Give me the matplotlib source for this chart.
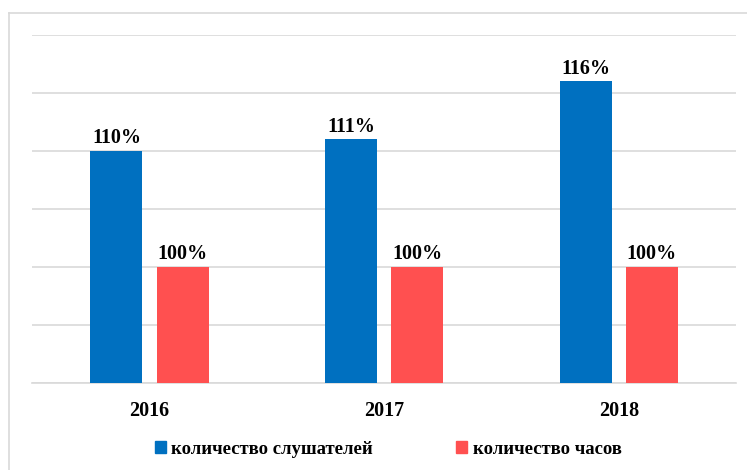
import matplotlib
matplotlib.use("Agg")
import matplotlib.pyplot as plt
from matplotlib.lines import Line2D
import numpy as np

years = ["2016", "2017", "2018"]
listeners = [110, 111, 116]
hours = [100, 100, 100]
series_names = ["количество слушателей", "количество часов"]
colors = ["#0070C0", "#FF5050"]

plt.rcParams['font.family'] = ['Liberation Serif', 'DejaVu Serif']

fig = plt.figure(figsize=(7.47, 4.70), dpi=100)
W, H = 747, 470

# outer chart frame (light gray), extends beyond right/bottom edges
frame_col = "#D9D9D9"
fig.add_artist(Line2D([9/W, 1.0], [1 - 12.5/H, 1 - 12.5/H], transform=fig.transFigure,
                      color=frame_col, lw=1.2))
fig.add_artist(Line2D([9/W, 9/W], [0.0, 1 - 12.5/H], transform=fig.transFigure,
                      color=frame_col, lw=1.2))

ax = fig.add_axes([32.2/W, 1 - 382.7/H, (736.1 - 32.2)/W, (382.7 - 35)/H])
x = np.arange(len(years))
width = 0.222
off = 0.141

b1 = ax.bar(x - off, listeners, width, color=colors[0], zorder=3, bottom=0)
b2 = ax.bar(x + off, hours, width, color=colors[1], zorder=3, bottom=0)

ax.set_ylim(90, 120)
ax.set_xlim(-0.5, 2.5)
ax.set_yticks(np.arange(90, 121, 5))
ax.yaxis.grid(True, color="#D9D9D9", lw=1.2, zorder=0)
ax.tick_params(axis='y', left=False, labelleft=False)
ax.tick_params(axis='x', bottom=False, pad=10)
ax.set_xticks(x)
ax.set_xticklabels(years, fontsize=14.5, fontweight='bold')
for s in ["top", "right", "left"]:
    ax.spines[s].set_visible(False)
ax.spines["bottom"].set_color("#D9D9D9")
ax.spines["bottom"].set_linewidth(1.2)

for bars, vals in ((b1, listeners), (b2, hours)):
    for r, v in zip(bars, vals):
        ax.annotate(f"{v}%", (r.get_x() + r.get_width()/2, v), xytext=(0, 2),
                    textcoords="offset points", ha="center", va="bottom",
                    fontsize=14.5, fontweight='bold', zorder=4)

handles = [plt.Rectangle((0, 0), 1, 1, color=c) for c in colors]
fig.legend(handles, series_names, loc="center", bbox_to_anchor=(388/W, 1 - 449/H),
           ncol=2, frameon=False, prop={'size': 13.5, 'weight': 'bold'},
           handlelength=0.6, handleheight=0.6, handletextpad=0.3, columnspacing=4.4)

fig.savefig("out.png", dpi=100)
